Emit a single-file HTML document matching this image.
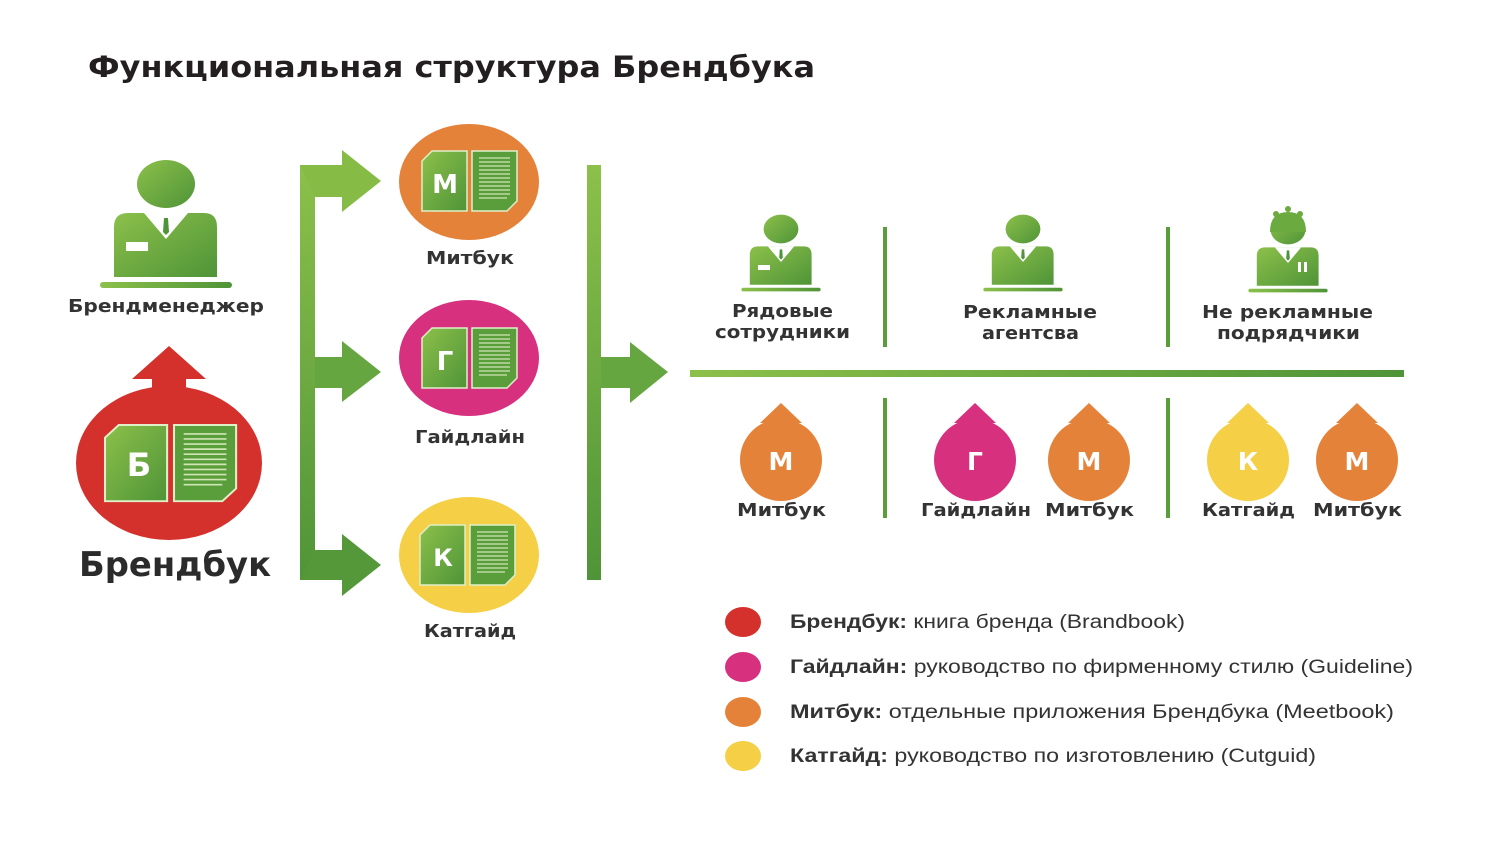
<!DOCTYPE html>
<html><head><meta charset="utf-8"><style>
html,body{margin:0;padding:0;background:#fff;}
svg{display:block;font-family:"DejaVu Sans","Liberation Sans",sans-serif;}
</style></head><body>
<svg width="1486" height="850" viewBox="0 0 1486 850" xmlns="http://www.w3.org/2000/svg">
<defs>
<linearGradient id="g" x1="0" y1="0" x2="1" y2="1"><stop offset="0" stop-color="#8cc04a"/><stop offset="1" stop-color="#4f9438"/></linearGradient>
<linearGradient id="gv" x1="0" y1="0" x2="0" y2="1"><stop offset="0" stop-color="#8cc04a"/><stop offset="1" stop-color="#4f9438"/></linearGradient>
<linearGradient id="gh" x1="0" y1="0" x2="1" y2="0"><stop offset="0" stop-color="#8cc04a"/><stop offset="1" stop-color="#4f9438"/></linearGradient>
<g id="person">
<ellipse cx="0" cy="-100" rx="29" ry="24" fill="url(#g)"/>
<path d="M-52,-7 V-57 Q-52,-71 -38,-71 H38 Q51,-71 51,-57 V-7 Z" fill="url(#g)"/>
<path d="M-22,-71 L0,-45 L22,-71 Z" fill="#fff"/>
<path d="M-2,-66 H2 L3,-52 L0,-49 L-3,-52 Z" fill="#4f9438"/>
<rect x="-66" y="-2" width="132" height="6" rx="3" fill="url(#gh)"/>
</g>
<g id="book">
<path d="M10,0 H45 V60 H0 V10 Z" fill="url(#g)" stroke="#dff0c8" stroke-width="1.5"/>
<path d="M50,0 H95 V50 L85,60 H50 Z" fill="#5a9e3c" stroke="#dff0c8" stroke-width="1.5"/>
<g stroke="#cfe6b4" stroke-width="1.3">
<line x1="57" y1="7" x2="88" y2="7"/><line x1="57" y1="11" x2="88" y2="11"/><line x1="57" y1="15" x2="88" y2="15"/><line x1="57" y1="19" x2="88" y2="19"/><line x1="57" y1="23" x2="88" y2="23"/><line x1="57" y1="27" x2="88" y2="27"/><line x1="57" y1="31" x2="88" y2="31"/><line x1="57" y1="35" x2="88" y2="35"/><line x1="57" y1="39" x2="88" y2="39"/><line x1="57" y1="43" x2="88" y2="43"/><line x1="57" y1="47" x2="85" y2="47"/>
</g>
</g>
</defs>

<text x="88" y="77" font-size="29" font-weight="bold" fill="#231f20" textLength="727" lengthAdjust="spacingAndGlyphs">Функциональная структура Брендбука</text>

<!-- brand manager -->
<use href="#person" transform="translate(166,284)"/>
<rect x="126" y="242" width="22" height="9" fill="#fff"/>
<text x="68" y="312" font-size="18" font-weight="bold" fill="#333" textLength="196" lengthAdjust="spacingAndGlyphs">Брендменеджер</text>

<!-- brandbook -->
<path d="M169,346 L206,379 H186 V392 H152 V379 H132 Z" fill="#d4302c"/>
<ellipse cx="169" cy="463" rx="93" ry="77" fill="#d4302c"/>
<use href="#book" transform="translate(105,425) scale(1.38,1.27)"/>
<text x="139" y="476" font-size="32" font-weight="bold" fill="#fff" text-anchor="middle">Б</text>
<text x="79" y="576" font-size="34" font-weight="bold" fill="#2b2b2b" textLength="192" lengthAdjust="spacingAndGlyphs">Брендбук</text>

<!-- bracket arrows -->
<rect x="300" y="165" width="15" height="415" fill="url(#gv)"/>
<path d="M300,165 H342 V150 L381,181 L342,212 V197 H315 Z" fill="#86bc46"/>
<path d="M315,357 H342 V341 L381,372 L342,402 V388 H315 Z" fill="#66a640"/>
<path d="M315,550 H342 V534 L381,565 L342,596 V580 H300 Z" fill="#54983a"/>

<!-- sub-books -->
<ellipse cx="469" cy="182" rx="70" ry="58" fill="#e5823a"/>
<use href="#book" transform="translate(422,151)"/>
<text x="445" y="193" font-size="26" font-weight="bold" fill="#fff" text-anchor="middle">М</text>
<text x="426" y="264" font-size="18" font-weight="bold" fill="#333" textLength="88" lengthAdjust="spacingAndGlyphs">Митбук</text>

<ellipse cx="469" cy="358" rx="70" ry="58" fill="#d6307e"/>
<use href="#book" transform="translate(422,328)"/>
<text x="445" y="370" font-size="26" font-weight="bold" fill="#fff" text-anchor="middle">Г</text>
<text x="415" y="443" font-size="18" font-weight="bold" fill="#333" textLength="110" lengthAdjust="spacingAndGlyphs">Гайдлайн</text>

<ellipse cx="469" cy="555" rx="70" ry="58" fill="#f5cf45"/>
<use href="#book" transform="translate(420,525)"/>
<text x="443" y="566" font-size="24" font-weight="bold" fill="#fff" text-anchor="middle">К</text>
<text x="424" y="637" font-size="18" font-weight="bold" fill="#333" textLength="92" lengthAdjust="spacingAndGlyphs">Катгайд</text>

<!-- second bar -->
<rect x="587" y="165" width="14" height="415" fill="url(#gv)"/>
<path d="M601,357 H630 V342 L668,372 L630,403 V388 H601 Z" fill="#66a640"/>

<!-- horizontal line -->
<rect x="690" y="370" width="714" height="7" fill="url(#gh)"/>

<!-- dividers -->
<rect x="883" y="227" width="4" height="120" fill="#5a9e3c"/>
<rect x="1166" y="227" width="4" height="120" fill="#5a9e3c"/>
<rect x="883" y="398" width="4" height="120" fill="#5a9e3c"/>
<rect x="1166" y="398" width="4" height="120" fill="#5a9e3c"/>

<!-- small persons -->
<use href="#person" transform="translate(781,289) scale(0.6)"/>
<rect x="758" y="265" width="12" height="5" fill="#fff"/>
<use href="#person" transform="translate(1023,289) scale(0.6)"/>
<use href="#person" transform="translate(1288,290) scale(0.6)"/>
<path d="M1270,232 Q1270,212 1288,212 Q1306,212 1306,232 Z" fill="#6aaa3e"/>
<circle cx="1276" cy="214" r="3" fill="#6aaa3e"/><circle cx="1288" cy="209" r="3" fill="#6aaa3e"/><circle cx="1300" cy="214" r="3" fill="#6aaa3e"/>
<rect x="1298" y="262" width="3" height="10" fill="#fff"/><rect x="1304" y="262" width="3" height="10" fill="#fff"/>

<g font-size="18" font-weight="bold" fill="#333" lengthAdjust="spacingAndGlyphs">
<text x="732" y="317" textLength="101" lengthAdjust="spacingAndGlyphs">Рядовые</text><text x="715" y="338" textLength="135" lengthAdjust="spacingAndGlyphs">сотрудники</text>
<text x="963" y="318" textLength="134" lengthAdjust="spacingAndGlyphs">Рекламные</text><text x="982" y="339" textLength="97" lengthAdjust="spacingAndGlyphs">агентсва</text>
<text x="1202" y="318" textLength="171" lengthAdjust="spacingAndGlyphs">Не рекламные</text><text x="1217" y="339" textLength="143" lengthAdjust="spacingAndGlyphs">подрядчики</text>
</g>

<!-- bottom circles -->
<g font-weight="bold">
<g fill="#e5823a"><path d="M781,403 L802,423 H792 V430 H770 V423 H760 Z"/><circle cx="781" cy="460" r="41"/></g>
<g fill="#d6307e"><path d="M975,403 L996,423 H986 V430 H964 V423 H954 Z"/><circle cx="975" cy="460" r="41"/></g>
<g fill="#e5823a"><path d="M1089,403 L1110,423 H1100 V430 H1078 V423 H1068 Z"/><circle cx="1089" cy="460" r="41"/></g>
<g fill="#f5cf45"><path d="M1248,403 L1269,423 H1259 V430 H1237 V423 H1227 Z"/><circle cx="1248" cy="460" r="41"/></g>
<g fill="#e5823a"><path d="M1357,403 L1378,423 H1368 V430 H1346 V423 H1336 Z"/><circle cx="1357" cy="460" r="41"/></g>
<g fill="#fff" font-size="25" text-anchor="middle">
<text x="781" y="470">М</text><text x="975" y="470">Г</text><text x="1089" y="470">М</text><text x="1248" y="470">К</text><text x="1357" y="470">М</text>
</g>
<g fill="#333" font-size="18">
<text x="737" y="516" textLength="89" lengthAdjust="spacingAndGlyphs">Митбук</text>
<text x="921" y="516" textLength="110" lengthAdjust="spacingAndGlyphs">Гайдлайн</text>
<text x="1045" y="516" textLength="89" lengthAdjust="spacingAndGlyphs">Митбук</text>
<text x="1202" y="516" textLength="93" lengthAdjust="spacingAndGlyphs">Катгайд</text>
<text x="1313" y="516" textLength="89" lengthAdjust="spacingAndGlyphs">Митбук</text>
</g>
</g>

<!-- legend -->
<ellipse cx="743" cy="622" rx="18" ry="15" fill="#d4302c"/>
<ellipse cx="743" cy="667" rx="18" ry="15" fill="#d6307e"/>
<ellipse cx="743" cy="712" rx="18" ry="15" fill="#e5823a"/>
<ellipse cx="743" cy="756" rx="18" ry="15" fill="#f5cf45"/>
<g font-size="19" fill="#333" style="font-family:'Liberation Sans',sans-serif">
<text x="790" y="628" textLength="395" lengthAdjust="spacingAndGlyphs"><tspan font-weight="bold">Брендбук:</tspan> книга бренда (Brandbook)</text>
<text x="790" y="673" textLength="623" lengthAdjust="spacingAndGlyphs"><tspan font-weight="bold">Гайдлайн:</tspan>  руководство по фирменному стилю (Guideline)</text>
<text x="790" y="718" textLength="604" lengthAdjust="spacingAndGlyphs"><tspan font-weight="bold">Митбук:</tspan>  отдельные приложения Брендбука (Meetbook)</text>
<text x="790" y="762" textLength="526" lengthAdjust="spacingAndGlyphs"><tspan font-weight="bold">Катгайд:</tspan>  руководство по изготовлению (Cutguid)</text>
</g>
</svg>
</body></html>
